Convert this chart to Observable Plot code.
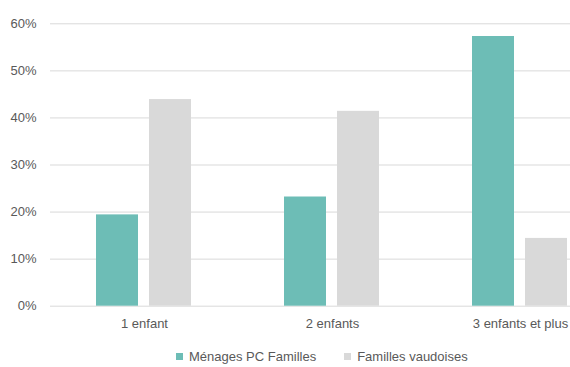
<!DOCTYPE html>
<html>
<head>
<meta charset="utf-8">
<script src="https://cdn.jsdelivr.net/npm/d3@7"></script>
<script src="https://cdn.jsdelivr.net/npm/@observablehq/plot@0.6"></script>
<style>
  html, body { margin: 0; padding: 0; background: white; overflow: hidden; }
  body { width: 570px; height: 367px; font-family: "Liberation Sans", Arial, sans-serif; position: relative; }
  #chart svg { overflow: hidden; }
  .legend { position: absolute; top: 349px; left: 176px; display: flex; font-size: 13px; line-height: 15px; color: #595959; white-space: nowrap; }
  .legend span.item { display: flex; align-items: center; margin-right: 28px; }
  .legend span.sw { display: inline-block; width: 7px; height: 7px; margin-right: 6px; }
</style>
</head>
<body>
<div id="chart"></div>
<div class="legend" id="legend"></div>
<script>
const categories = ["1 enfant", "2 enfants", "3 enfants et plus"];
const seriesNames = ["Ménages PC Familles", "Familles vaudoises"];
const menagesPC = [0.194, 0.232, 0.573];
const famillesVD = [0.439, 0.414, 0.144];
const yTicks = [0, 0.1, 0.2, 0.3, 0.4, 0.5, 0.6];
const colors = ["#6dbdb6", "#d9d9d9"];

const data = [];
categories.forEach((c, i) => {
  data.push({cat: c, series: seriesNames[0], value: menagesPC[i]});
  data.push({cat: c, series: seriesNames[1], value: famillesVD[i]});
});

const plot = Plot.plot({
  width: 570,
  height: 340,
  marginLeft: 50,
  marginRight: -44,
  marginTop: 23.3,
  marginBottom: 34.3,
  style: {fontFamily: "'Liberation Sans', Arial, sans-serif", fontSize: "13px", color: "#595959", background: "white"},
  fx: {domain: categories, padding: 0, label: null, axis: null},
  x: {domain: seriesNames, paddingInner: 0.206, paddingOuter: 0.867, axis: null},
  y: {domain: [0, 0.6], ticks: yTicks, axis: null},
  color: {domain: seriesNames, range: colors},
  marks: [
    Plot.ruleY(yTicks, {stroke: "#d9d9d9", strokeWidth: 1, facet: "exclude"}),
    Plot.barY(data, {fx: "cat", x: "series", y: "value", fill: "series"}),
    Plot.axisY({ticks: yTicks, tickFormat: d => Math.round(d * 100) + "%", tickSize: 0, tickPadding: 14, fontSize: 13, fill: "#595959", anchor: "left", label: null, facetAnchor: "left"}),
    Plot.axisFx({tickSize: 0, tickPadding: 13, fontSize: 13, fill: "#595959", label: null, anchor: "bottom"})
  ]
});
document.getElementById("chart").appendChild(plot);

const legend = document.getElementById("legend");
seriesNames.forEach((s, i) => {
  const item = document.createElement("span");
  item.className = "item";
  const sw = document.createElement("span");
  sw.className = "sw";
  sw.style.background = colors[i];
  item.appendChild(sw);
  item.appendChild(document.createTextNode(s));
  legend.appendChild(item);
});
</script>
</body>
</html>
